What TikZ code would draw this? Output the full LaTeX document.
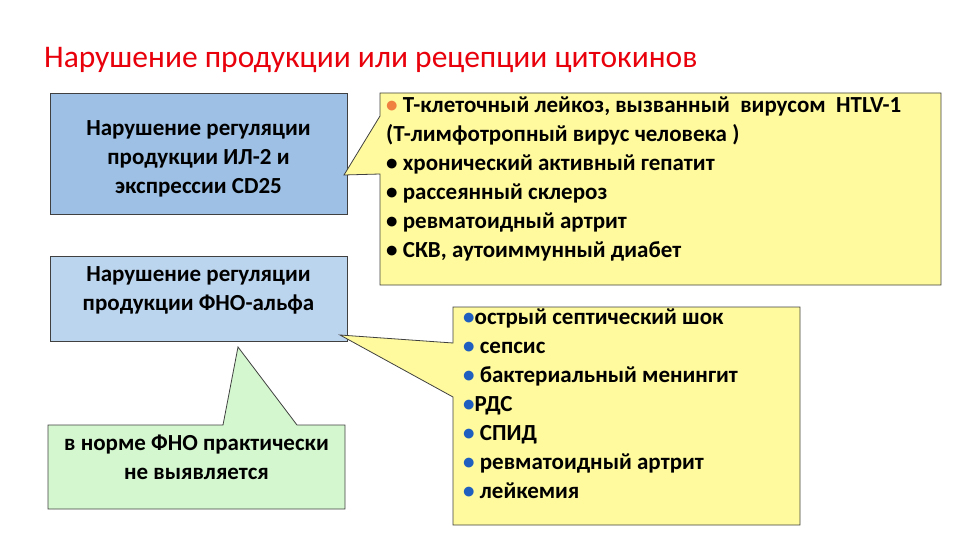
\documentclass[tikz,border=0pt]{standalone}
\usepackage{fontspec}
\setmainfont{Carlito}
\definecolor{tred}{HTML}{E8000B}
\definecolor{blueA}{HTML}{9DC0E4}
\definecolor{blueB}{HTML}{BCD5EE}
\definecolor{greenA}{HTML}{D4F7CF}
\definecolor{yel}{HTML}{FFFA9E}
\definecolor{dot}{HTML}{1F5FBF}
\definecolor{odot}{HTML}{F08040}
\begin{document}
\begin{tikzpicture}[x=1pt,y=-1pt,
  shape border/.style={draw=black!75, line width=0.8pt},
  txt/.style={font=\bfseries\fontsize{23}{29}\selectfont, align=left, anchor=north west, inner sep=0pt},
  ctxt/.style={font=\bfseries\fontsize{23}{29}\selectfont, align=center, inner sep=0pt}]
\useasboundingbox (0,0) rectangle (960,540);
\node[anchor=west, text=tred, font=\fontsize{31.5}{34}\selectfont, inner sep=0pt] (title) at (44,60) {Нарушение продукции или рецепции цитокинов};
% blue boxes
\fill[blueA, shape border] (50,93) rectangle (347,214);
\node[ctxt] (b1) at (198.5,159) {Нарушение регуляции\\продукции ИЛ-2 и\\экспрессии CD25};
\fill[blueB, shape border] (50,256) rectangle (347,341);
\node[ctxt] (b2) at (198.5,290) {Нарушение регуляции\\продукции ФНО-альфа};
% green callout
\filldraw[fill=greenA, shape border] (48,425) -- (223,425) -- (238,347) -- (297,425) -- (345,425) -- (345,509) -- (48,509) -- cycle;
\node[ctxt] (g) at (196.5,457) {в норме ФНО практически\\не выявляется};
% yellow callout 1
\filldraw[fill=yel, shape border] (380,93) -- (941,93) -- (941,285) -- (380,285) -- (380,174) -- (344,175) -- (380,116) -- cycle;
\node[txt] (y1) at (386,97) {{\color{odot}•} Т-клеточный лейкоз, вызванный\ \ вирусом\ \ HTLV-1\\(Т-лимфотропный вирус человека )\\• хронический активный гепатит\\• рассеянный склероз\\• ревматоидный артрит\\• СКВ, аутоиммунный диабет};
% yellow callout 2
\filldraw[fill=yel, shape border] (453,307) -- (800,307) -- (800,525) -- (453,525) -- (453,397) -- (340,335) -- (453,343) -- cycle;
\node[txt] (y2) at (463,309) {{\color{dot}•}острый септический шок\\{\color{dot}•} сепсис\\{\color{dot}•} бактериальный менингит\\{\color{dot}•}РДС\\{\color{dot}•} СПИД\\{\color{dot}•} ревматоидный артрит\\{\color{dot}•} лейкемия};
\end{tikzpicture}
\end{document}
